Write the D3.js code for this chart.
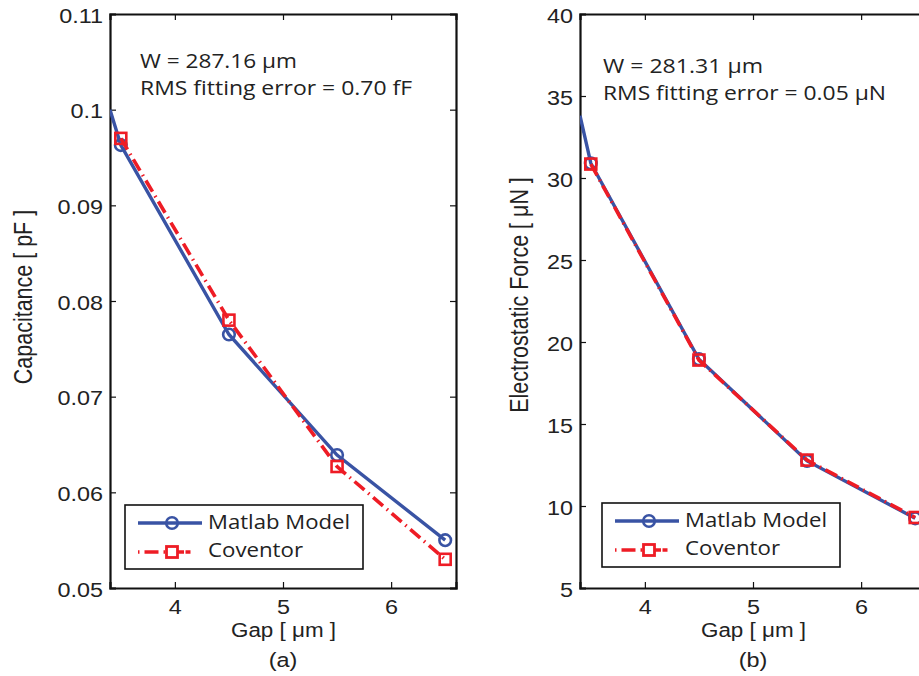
<!DOCTYPE html>
<html>
<head>
<meta charset="utf-8">
<script src="https://cdn.jsdelivr.net/npm/d3@7"></script>
<style>
  body { margin: 0; background: #fff; }
  svg { display: block; }
</style>
</head>
<body>
<svg width="919" height="676"></svg>
<script>
const svg = d3.select('svg');

// gap values (um)
const gapTicks = [4, 5, 6];
const sampleGap = [3.5, 4.5, 5.5, 6.5];
// model curve keeps one extra point at the left edge of the axes
const modelGap = [3.4, 3.5, 4.5, 5.5, 6.5];

// (a) capacitance, pF
const capModel = [0.1, 0.0963, 0.0765, 0.0639, 0.0550];
const capCoventor = [0.0970, 0.0780, 0.0627, 0.0530];
const capTicks = [0.05, 0.06, 0.07, 0.08, 0.09, 0.1, 0.11];

// (b) electrostatic force, uN
const forceModel = [33.8, 30.9, 18.95, 12.75, 9.25];
const forceCoventor = [30.85, 18.9, 12.8, 9.3];
const forceTicks = [5, 10, 15, 20, 25, 30, 35, 40];

const blue = '#3953a4';
const red = '#ee1c25';
const ink = '#222';
const tickFont = "'Liberation Sans', Arial, sans-serif";
const textFont = "'Open Sans', sans-serif";
const sx = 1.2; // the picture is a bit wider than tall

// squeeze/stretch a text to a measured width
const fit = (sel, w) => sel.attr('textLength', w).attr('lengthAdjust', 'spacingAndGlyphs');

function panel(p) {
  const g = svg.append('g');
  const x = d3.scaleLinear().domain([3.4, 6.6]).range([p.left, p.left + 346]);
  const y = d3.scaleLinear().domain(p.yDomain).range([588, 14]);

  const clipId = 'clip' + p.tag;
  g.append('clipPath').attr('id', clipId)
    .append('rect').attr('x', x(3.4)).attr('y', 14)
    .attr('width', x(6.6) - x(3.4)).attr('height', 574);

  // axes, MATLAB style: ticks inside, box all round
  const yl = g.append('g').attr('transform', `translate(${x(3.4)},0)`)
    .call(d3.axisLeft(y).tickValues(p.yTicks).tickFormat(p.fmt).tickSize(-6).tickPadding(7));
  const yr = g.append('g').attr('transform', `translate(${x(6.6)},0)`)
    .call(d3.axisRight(y).tickValues(p.yTicks).tickFormat('').tickSize(-6));
  const xb = g.append('g').attr('transform', 'translate(0,588)')
    .call(d3.axisBottom(x).tickValues(gapTicks).tickFormat(d3.format('d')).tickSize(-6).tickPadding(12));
  const xt = g.append('g').attr('transform', 'translate(0,14)')
    .call(d3.axisTop(x).tickValues(gapTicks).tickFormat('').tickSize(-6));
  [yl, yr, xb, xt].forEach(a => {
    a.selectAll('.domain').attr('stroke', '#111').attr('stroke-width', 2.2);
    a.selectAll('.tick line').attr('stroke', '#111').attr('stroke-width', 1.2);
    a.selectAll('text').attr('font-family', tickFont).attr('font-size', 19.5).attr('fill', ink);
  });
  // widen tick labels like the picture
  yl.selectAll('.tick text').each(function () {
    const t = d3.select(this);
    t.attr('transform', `translate(${t.attr('x')},2) scale(${sx},1)`).attr('x', 0);
  });
  xb.selectAll('.tick text').attr('transform', `scale(${sx},1)`);

  const plot = g.append('g').attr('clip-path', `url(#${clipId})`);
  const line = d3.line().x(d => x(d[0])).y(d => y(d[1]));

  const cov = sampleGap.map((v, i) => [v, p.coventor[i]]);
  const mod = modelGap.map((v, i) => [v, p.model[i]]);

  plot.append('path').datum(mod).attr('d', line)
    .attr('fill', 'none').attr('stroke', blue).attr('stroke-width', 3.4);
  plot.selectAll('.mk').data(mod.slice(1)).enter().append('circle')
    .attr('cx', d => x(d[0])).attr('cy', d => y(d[1])).attr('r', 5.8)
    .attr('fill', 'none').attr('stroke', blue).attr('stroke-width', 2.6);

  plot.append('path').datum(cov).attr('d', line)
    .attr('fill', 'none').attr('stroke', red).attr('stroke-width', 3.6)
    .attr('stroke-dasharray', '13,5,1.5,5');
  plot.selectAll('.sq').data(cov).enter().append('rect')
    .attr('x', d => x(d[0]) - 5.5).attr('y', d => y(d[1]) - 5.5)
    .attr('width', 11).attr('height', 11)
    .attr('fill', 'none').attr('stroke', red).attr('stroke-width', 2.6);

  // annotation
  fit(g.append('text').attr('x', p.annX).attr('y', p.annY)
    .attr('font-family', textFont).attr('font-size', 20).attr('fill', ink)
    .text(p.note1), p.w1);
  fit(g.append('text').attr('x', p.annX).attr('y', p.annY + 27)
    .attr('font-family', textFont).attr('font-size', 20).attr('fill', ink)
    .text(p.note2), p.w2);

  // labels
  fit(g.append('text').attr('x', x(5) - 52).attr('y', 637)
    .attr('font-family', tickFont).attr('font-size', 19.5).attr('fill', ink)
    .text('Gap [ \u03bcm ]'), 105);
  g.append('text').attr('transform', `translate(${x(5)},667) scale(${sx},1)`)
    .attr('text-anchor', 'middle')
    .attr('font-family', tickFont).attr('font-size', 19.5).attr('fill', ink)
    .text(p.caption);
  g.append('text').attr('transform', `translate(${p.ylabX},${p.ylabY}) scale(${sx},1) rotate(-90)`)
    .attr('text-anchor', 'middle')
    .attr('font-family', tickFont).attr('font-size', 21.5).attr('fill', ink)
    .text(p.ylabel);

  // legend
  const lg = g.append('g').attr('transform', `translate(${p.legX},${p.legY})`);
  lg.append('rect').attr('width', 238).attr('height', 64)
    .attr('fill', '#fff').attr('stroke', '#111').attr('stroke-width', 1.6);
  lg.append('line').attr('x1', 13).attr('x2', 77).attr('y1', 18).attr('y2', 18)
    .attr('stroke', blue).attr('stroke-width', 3.4);
  lg.append('circle').attr('cx', 47).attr('cy', 18).attr('r', 5.8)
    .attr('fill', 'none').attr('stroke', blue).attr('stroke-width', 2.6);
  lg.append('line').attr('x1', 13).attr('x2', 77).attr('y1', 47).attr('y2', 47)
    .attr('stroke', red).attr('stroke-width', 3.6).attr('stroke-dasharray', '1.5,5,14,5,1.5,5,14');
  lg.append('rect').attr('x', 41.5).attr('y', 41.5).attr('width', 11).attr('height', 11)
    .attr('fill', '#fff').attr('stroke', red).attr('stroke-width', 2.8);
  fit(lg.append('text').attr('x', 83).attr('y', 24)
    .attr('font-family', textFont).attr('font-size', 20.5).attr('fill', ink).text('Matlab Model'), 142);
  fit(lg.append('text').attr('x', 83).attr('y', 52)
    .attr('font-family', textFont).attr('font-size', 20.5).attr('fill', ink).text('Coventor'), 95);
}

panel({
  tag: 'a', left: 110, yDomain: [0.05, 0.11], yTicks: capTicks,
  fmt: d => d3.format('.2~f')(d),
  model: capModel, coventor: capCoventor,
  note1: 'W = 287.16 \u03bcm', note2: 'RMS fitting error = 0.70 fF',
  annX: 140, annY: 68, w1: 157, w2: 272,
  caption: '(a)', ylabel: 'Capacitance [ pF ]', ylabX: 32, ylabY: 297,
  legX: 125, legY: 505
});

panel({
  tag: 'b', left: 580, yDomain: [5, 40], yTicks: forceTicks,
  fmt: d3.format('d'),
  model: forceModel, coventor: forceCoventor,
  note1: 'W = 281.31 \u03bcm', note2: 'RMS fitting error = 0.05 \u03bcN',
  annX: 603, annY: 73, w1: 160, w2: 283,
  caption: '(b)', ylabel: 'Electrostatic Force [ \u03bcN ]', ylabX: 528, ylabY: 295,
  legX: 602, legY: 503
});
</script>
</body>
</html>
